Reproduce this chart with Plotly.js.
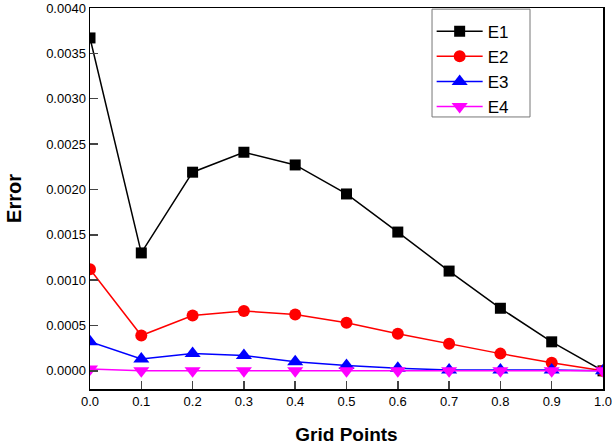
<!DOCTYPE html>
<html>
<head>
<meta charset="utf-8">
<script src="https://cdn.plot.ly/plotly-3.0.1.min.js"></script>
<style>html,body{margin:0;padding:0;background:#fff;}#chart{width:612px;height:445px;}</style>
</head>
<body>
<div id="chart"></div>
<script>
const gridPoints = [0.0, 0.1, 0.2, 0.3, 0.4, 0.5, 0.6, 0.7, 0.8, 0.9, 1.0];
const E1 = [0.00367, 0.00130, 0.00219, 0.00241, 0.00227, 0.00195, 0.00153, 0.00110, 0.00069, 0.00032, 0.0];
const E2 = [0.00112, 0.00039, 0.00061, 0.00066, 0.00062, 0.00053, 0.00041, 0.00030, 0.00019, 0.00009, 0.0];
const E3 = [0.00032, 0.00013, 0.00019, 0.00017, 0.00010, 0.00006, 0.00003, 0.00001, 0.00001, 0.00001, 0.0];
const E4 = [0.00002, 0.0, 0.0, 0.0, 0.0, 0.0, 0.0, 0.0, 0.0, 0.0, 0.0];
const seriesNames = ['E1', 'E2', 'E3', 'E4'];
const xTickVals = [0.0, 0.1, 0.2, 0.3, 0.4, 0.5, 0.6, 0.7, 0.8, 0.9, 1.0];
const xTickText = ['0.0', '0.1', '0.2', '0.3', '0.4', '0.5', '0.6', '0.7', '0.8', '0.9', '1.0'];
const yTickVals = [0.0, 0.0005, 0.0010, 0.0015, 0.0020, 0.0025, 0.0030, 0.0035, 0.0040];
const yTickText = ['0.0000', '0.0005', '0.0010', '0.0015', '0.0020', '0.0025', '0.0030', '0.0035', '0.0040'];
const xTitle = 'Grid Points';
const yTitle = 'Error';

const styles = [
  {color: '#000000', symbol: 'square', size: 11},
  {color: '#ff0000', symbol: 'circle', size: 12},
  {color: '#0000ff', symbol: 'triangle-up', size: 14},
  {color: '#ff00ff', symbol: 'triangle-down', size: 14}
];
const allY = [E1, E2, E3, E4];
const traces = allY.map((ys, i) => ({
  x: gridPoints, y: ys, name: seriesNames[i], type: 'scatter', mode: 'lines+markers',
  line: {color: styles[i].color, width: 1.5},
  marker: {color: styles[i].color, symbol: styles[i].symbol, size: styles[i].size}
}));

const layout = {
  width: 612, height: 445,
  margin: {l: 90, r: 9, t: 8, b: 56},
  paper_bgcolor: '#fff', plot_bgcolor: '#fff',
  font: {family: 'Liberation Sans, Arial, sans-serif', color: '#000', size: 13},
  showlegend: true,
  legend: {x: 0.666, y: 0.985, xanchor: 'left', yanchor: 'top', borderwidth: 0,
           bgcolor: 'rgba(0,0,0,0)', font: {size: 17}, tracegroupgap: 0, itemwidth: 46},
  shapes: [{type: 'rect', xref: 'paper', yref: 'paper', x0: 0.6667, x1: 0.8577, y0: 0.714, y1: 0.997,
            line: {color: '#777', width: 1}, fillcolor: '#fff', layer: 'above'}],
  xaxis: {range: [0, 1], tickvals: xTickVals, ticktext: xTickText, ticks: 'inside', ticklen: 8,
          tickwidth: 1.5, showline: true, linewidth: 1.5, linecolor: '#000', mirror: true,
          showgrid: false, zeroline: false, ticklabeloverflow: 'allow',
          title: {text: '<b>' + xTitle + '</b>', font: {size: 19}, standoff: 24}},
  yaxis: {range: [-0.0002, 0.0040], tickvals: yTickVals, ticktext: yTickText, ticks: 'inside', ticklen: 8,
          tickwidth: 1.5, showline: true, linewidth: 1.5, linecolor: '#000', mirror: true,
          showgrid: false, zeroline: false,
          title: {text: '<b>' + yTitle + '</b>', font: {size: 20}, standoff: 19}}
};
Plotly.newPlot('chart', traces, layout, {displayModeBar: false, staticPlot: true});
</script>
</body>
</html>
